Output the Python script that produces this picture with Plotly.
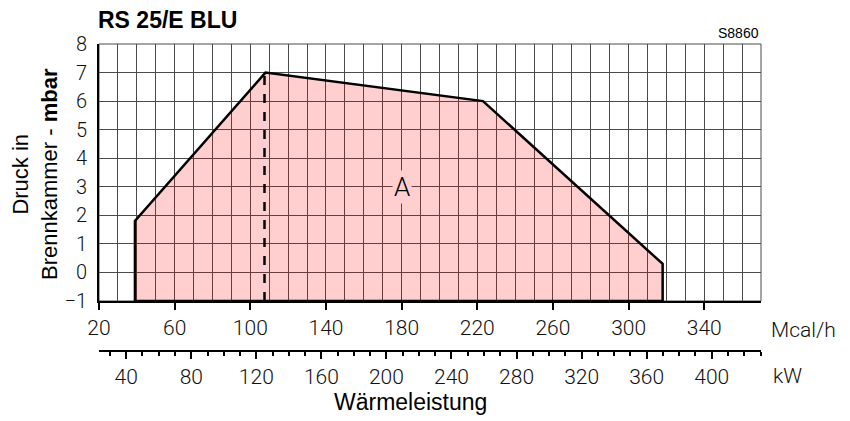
import plotly.graph_objects as go

# ---- data ----
mcal_x = [39, 39, 108, 223, 318, 318, 39]
pressure = [-1, 1.8, 7, 6, 0.3, -1, -1]
dash_x = [107.5, 107.5]
dash_y = [-1, 7]
mcal_ticks = [20, 60, 100, 140, 180, 220, 260, 300, 340]
kw_ticks = [40, 80, 120, 160, 200, 240, 280, 320, 360, 400]
y_ticks = [-1, 0, 1, 2, 3, 4, 5, 6, 7, 8]
mcal_range = [20, 370]
kw_factor = 1.163
label_A = ("A", 180, 3)

OFF = 8  # page body margin of the browser
W, H = 850 - OFF, 421 - OFF
# target pixel positions (in the window)
plot_left, plot_right, plot_top, plot_bottom = 99, 761, 44, 301
paper_bottom = 351  # kW axis line

ml = plot_left - OFF
mr = W - (plot_right - OFF)
mt = plot_top - OFF
mb = H - (paper_bottom - OFF)
pw = W - ml - mr
ph = H - mt - mb


def px_x(px):
    return (px - OFF - ml) / pw


def px_y(py):
    return (H - mb - (py - OFF)) / ph


tick_font = dict(family="Roboto, Liberation Sans, Arial", size=21, color="#111", weight=300)
grid = "#4a4a4a"

fig = go.Figure()
fig.add_trace(go.Scatter(
    x=mcal_x, y=pressure, mode="lines", fill="toself",
    fillcolor="rgba(255,0,0,0.19)", line=dict(color="black", width=2.5),
    hoverinfo="skip", showlegend=False))
fig.add_trace(go.Scatter(
    x=dash_x, y=dash_y, mode="lines",
    line=dict(color="black", width=2.5, dash="dash"),
    hoverinfo="skip", showlegend=False))
# invisible trace on kW axis
fig.add_trace(go.Scatter(
    x=[v * kw_factor for v in mcal_range], y=[-1, -1], xaxis="x2", yaxis="y",
    mode="lines", line=dict(color="rgba(0,0,0,0)"), hoverinfo="skip", showlegend=False))

ydom0 = px_y(plot_bottom)

fig.update_layout(
    width=W, height=H,
    margin=dict(l=ml, r=mr, t=mt, b=mb, autoexpand=False),
    plot_bgcolor="white", paper_bgcolor="white",
    xaxis=dict(
        range=mcal_range, tickmode="array", tickvals=mcal_ticks,
        ticks="outside", ticklen=7, tickwidth=1.5, tickcolor="black",
        showline=True, linewidth=2, linecolor="black",
        showgrid=True, gridcolor=grid, gridwidth=1,
        minor=dict(tickmode="linear", tick0=20, dtick=10, showgrid=True,
                   gridcolor=grid, gridwidth=1, ticks=""),
        tickfont=tick_font, zeroline=False, anchor="y",
    ),
    xaxis2=dict(
        range=[v * kw_factor for v in mcal_range], overlaying="x",
        anchor="free", position=0, side="bottom",
        tickmode="array", tickvals=kw_ticks,
        ticks="outside", ticklen=7, tickwidth=1.5, tickcolor="black",
        minor=dict(tickmode="linear", tick0=0, dtick=10, ticks="outside",
                   ticklen=4, tickwidth=1.5, tickcolor="black"),
        showline=True, linewidth=1.5, linecolor="black",
        showgrid=False, zeroline=False, tickfont=tick_font,
    ),
    yaxis=dict(
        domain=[ydom0, 1], range=[-1, 8], tickvals=y_ticks,
        ticktext=["\u22121"] + [str(v) for v in y_ticks[1:]],
        showline=True, linewidth=2, linecolor="black",
        showgrid=True, gridcolor=grid, gridwidth=1, zeroline=False,
        ticks="", ticklabelstandoff=6,
        tickfont=dict(family="Roboto, Liberation Sans, Arial", size=20, color="#111", weight=300),
    ),
)

fig.add_shape(type="rect", xref="x domain", yref="y domain", x0=0, x1=1, y0=0, y1=1,
              line=dict(color=grid, width=1), layer="below")

fig.add_annotation(text=label_A[0], x=label_A[1], y=label_A[2], xref="x", yref="y",
                   showarrow=False, bgcolor="rgb(255,207,207)",
                   font=dict(family="Roboto, Liberation Sans, Arial", size=26, color="black", weight=300))

ann_font = dict(family="Liberation Sans, Arial", color="black")
fig.add_annotation(text="<b>RS 25/E BLU</b>", xref="paper", yref="paper",
                   x=px_x(96), y=px_y(20), xanchor="left", yanchor="middle",
                   showarrow=False, font=dict(ann_font, size=23))
fig.add_annotation(text="S8860", xref="paper", yref="paper",
                   x=px_x(761), y=px_y(33), xanchor="right", yanchor="middle",
                   showarrow=False, font=dict(ann_font, size=14))
fig.add_annotation(text="Druck in<br>Brennkammer - <b>mbar</b>", xref="paper", yref="paper",
                   x=px_x(35), y=px_y(174), xanchor="center", yanchor="middle",
                   textangle=-90, showarrow=False, font=dict(ann_font, size=22))
fig.add_annotation(text="Wärmeleistung", xref="paper", yref="paper",
                   x=px_x(410), y=px_y(402), xanchor="center", yanchor="middle",
                   showarrow=False, font=dict(ann_font, size=23))
fig.add_annotation(text="Mcal/h", xref="paper", yref="paper",
                   x=px_x(769), y=px_y(330), xanchor="left", yanchor="middle",
                   showarrow=False, font=tick_font)
fig.add_annotation(text="kW", xref="paper", yref="paper",
                   x=px_x(771), y=px_y(376), xanchor="left", yanchor="middle",
                   showarrow=False, font=tick_font)

fig.write_html("out.html")
